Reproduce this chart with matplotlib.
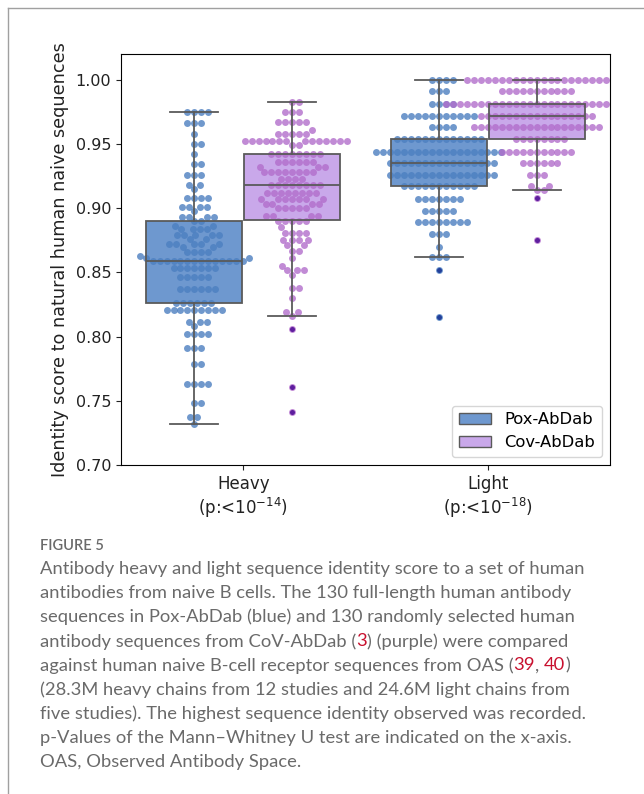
import numpy as np
import matplotlib
matplotlib.use("Agg")
import matplotlib.pyplot as plt
from matplotlib.patches import Patch, PathPatch
from matplotlib.lines import Line2D

# identity scores: (value, how many dots at that level)
heavy_pox_levels = [0.975, 0.966, 0.958, 0.950, 0.942, 0.934, 0.926, 0.918, 0.915, 0.908,
                    0.901, 0.898, 0.893, 0.890, 0.886, 0.884, 0.879, 0.876, 0.872, 0.870,
                    0.866, 0.863, 0.861, 0.859, 0.853, 0.846, 0.837, 0.826, 0.821, 0.811,
                    0.808, 0.802, 0.791, 0.779, 0.763, 0.748, 0.737, 0.732]
heavy_pox_counts = [4, 3, 1, 2, 1, 2, 3, 2, 1, 4,
                    4, 1, 4, 2, 2, 4, 5, 2, 5, 2,
                    4, 1, 2, 14, 7, 5, 6, 6, 9, 3,
                    1, 4, 3, 2, 4, 2, 2, 1]

heavy_cov_levels = [0.983, 0.975, 0.967, 0.961, 0.958, 0.952, 0.949, 0.942, 0.936, 0.932,
                    0.928, 0.923, 0.918, 0.912, 0.907, 0.903, 0.900, 0.894, 0.890, 0.885,
                    0.881, 0.875, 0.871, 0.867, 0.861, 0.855, 0.852, 0.848, 0.838, 0.830,
                    0.819, 0.816, 0.806, 0.761, 0.741]
heavy_cov_counts = [2, 3, 5, 1, 5, 14, 2, 8, 6, 3,
                    8, 4, 8, 8, 7, 4, 5, 4, 5, 1,
                    4, 4, 2, 2, 1, 1, 3, 1, 2, 1,
                    2, 1, 1, 1, 1]

light_pox_levels = [1.000, 0.991, 0.981, 0.972, 0.963, 0.954, 0.944, 0.935, 0.926, 0.917,
                    0.907, 0.898, 0.889, 0.880, 0.870, 0.862, 0.852, 0.815]
light_pox_counts = [4, 3, 4, 11, 4, 13, 19, 16, 16, 11,
                    7, 5, 8, 3, 1, 3, 1, 1]

light_cov_levels = [1.000, 0.991, 0.981, 0.972, 0.963, 0.954, 0.944, 0.935, 0.926, 0.917,
                    0.914, 0.908, 0.875]
light_cov_counts = [21, 11, 28, 17, 19, 8, 11, 6, 3, 2,
                    2, 1, 1]

chains = ["Heavy", "Light"]
p_exps = ["-14", "-18"]
groups = ["Pox-AbDab", "Cov-AbDab"]

box_colors = ["#6e98cf", "#c9a8ea"]
dot_colors = ["#4c7fc0", "#b26ecb"]
flier_colors = ["#23409a", "#5e1e9e"]
line_gray = "#5a5a5a"

data = {
    ("Heavy", "Pox-AbDab"): np.repeat(heavy_pox_levels, heavy_pox_counts),
    ("Heavy", "Cov-AbDab"): np.repeat(heavy_cov_levels, heavy_cov_counts),
    ("Light", "Pox-AbDab"): np.repeat(light_pox_levels, light_pox_counts),
    ("Light", "Cov-AbDab"): np.repeat(light_cov_levels, light_cov_counts),
}

W, H = 644, 794
fig = plt.figure(figsize=(W / 100, H / 100), dpi=100)
ax = fig.add_axes([121 / W, 1 - 465 / H, (610 - 121) / W, (465 - 54) / H])
ax.set_xlim(-0.5, 1.5)
ax.set_ylim(0.70, 1.02)


def swarm_x(vals, center, size):
    # simple beeswarm in pixel space, points placed low to high
    d = size * 100 / 72.0
    pts = ax.transData.transform(np.column_stack([np.full(len(vals), center), vals]))
    cx = pts[0, 0]
    ys = pts[:, 1]
    order = np.argsort(ys, kind="stable")
    px, py = [], []
    xs = np.zeros(len(vals))
    for i in order:
        y = ys[i]
        cands = [0.0]
        for a, b in zip(px, py):
            dy = y - b
            if abs(dy) < d:
                dx = np.sqrt(d * d - dy * dy)
                cands += [a + dx, a - dx]
        cands.sort(key=abs)
        for c in cands:
            if all((c - a) ** 2 + (y - b) ** 2 >= d * d - 1e-6 for a, b in zip(px, py)):
                break
        px.append(c)
        py.append(y)
        xs[i] = c
    back = ax.transData.inverted().transform(np.column_stack([cx + xs, ys]))
    return back[:, 0]


offsets = [-0.2, 0.2]
for ci, chain in enumerate(chains):
    for gi, grp in enumerate(groups):
        vals = data[(chain, grp)]
        pos = ci + offsets[gi]
        bp = ax.boxplot(vals, positions=[pos], widths=0.392, patch_artist=True,
                        capwidths=0.196, manage_ticks=False,
                        boxprops=dict(facecolor=box_colors[gi], edgecolor="none"),
                        whiskerprops=dict(color=line_gray, lw=1.3),
                        capprops=dict(color=line_gray, lw=1.3),
                        medianprops=dict(color=line_gray, lw=1.3),
                        flierprops=dict(marker="o", markersize=3.6, markerfacecolor=flier_colors[gi],
                                        markeredgecolor="none"))
        for b in bp["boxes"]:
            b.set_zorder(1)
            ax.add_patch(PathPatch(b.get_path(), fill=False, ec=line_gray, lw=1.3, zorder=3))
        for k in ["whiskers", "caps", "medians"]:
            for ln in bp[k]:
                ln.set_zorder(3)
        for ln in bp["fliers"]:
            ln.set_zorder(4)
        xs = swarm_x(vals, pos, 5)
        ax.scatter(xs, vals, s=25, color=dot_colors[gi], alpha=0.8, linewidths=0, zorder=2)

ax.set_xticks([0, 1])
ax.set_xticklabels([f"{c}\n(p:<$10^{{{e}}}$)" for c, e in zip(chains, p_exps)], fontsize=12)
ax.set_yticks(np.arange(0.70, 1.001, 0.05))
ax.set_yticklabels([f"{v:.2f}" for v in np.arange(0.70, 1.001, 0.05)], fontsize=11.5)
ax.tick_params(colors="#222222")
ax.set_ylabel("Identity score to natural human naive sequences", fontsize=12.7, color="#222222",
              labelpad=5)

handles = [Patch(facecolor=box_colors[i], edgecolor=line_gray, lw=1.0, label=groups[i]) for i in range(2)]
ax.legend(handles=handles, loc="lower right", fontsize=11.8, framealpha=0.8)

# page frame lines
fig.add_artist(Line2D([8 / W, 1], [1 - 8 / H, 1 - 8 / H], color="#a0a0a0", lw=1.0))
fig.add_artist(Line2D([8 / W, 8 / W], [0, 1 - 8 / H], color="#a0a0a0", lw=1.0))

cap_gray = "#6a6a6a"
red = "#c8102e"
fig.text(40 / W, 1 - 546 / H, "FIGURE 5", fontsize=10.5, color=cap_gray, family="Lato",
         fontweight="semibold", va="center")

caption = [
    [("Antibody heavy and light sequence identity score to a set of human", cap_gray)],
    [("antibodies from naive B cells. The 130 full-length human antibody", cap_gray)],
    [("sequences in Pox-AbDab (blue) and 130 randomly selected human", cap_gray)],
    [("antibody sequences from CoV-AbDab (", cap_gray), ("3", red), (") (purple) were compared", cap_gray)],
    [("against human naive B-cell receptor sequences from OAS (", cap_gray), ("39", red), (", ", cap_gray),
     ("40", red), (")", cap_gray)],
    [("(28.3M heavy chains from 12 studies and 24.6M light chains from", cap_gray)],
    [("five studies). The highest sequence identity observed was recorded.", cap_gray)],
    [("p-Values of the Mann\u2013Whitney U test are indicated on the x-axis.", cap_gray)],
    [("OAS, Observed Antibody Space.", cap_gray)],
]
renderer = fig.canvas.get_renderer()
for li, parts in enumerate(caption):
    y = 1 - (569 + li * 24.1) / H
    x = 40.0
    for s, col in parts:
        t = fig.text(x / W, y, s, fontsize=13.2, color=col, family="Lato", va="center")
        x += t.get_window_extent(renderer).width

fig.savefig("out.png", dpi=100)
